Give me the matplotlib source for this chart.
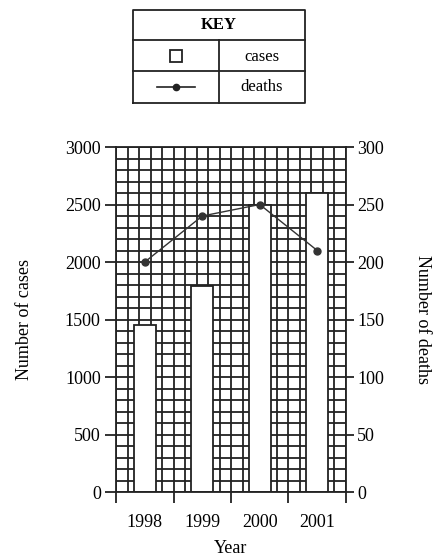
import numpy as np
import matplotlib
matplotlib.use("Agg")
from matplotlib import pyplot as plt

plt.rcParams['font.family'] = ['Liberation Serif', 'DejaVu Serif']

years = ['1998', '1999', '2000', '2001']
cases = [1450, 1790, 2500, 2600]
deaths = [200, 240, 250, 210]
case_ticks = [0, 500, 1000, 1500, 2000, 2500, 3000]
death_ticks = [0, 50, 100, 150, 200, 250, 300]

ink = '#222222'
fs = 13

fig = plt.figure(figsize=(4.33, 5.56), dpi=100)
ax = fig.add_axes([0.268, 0.1151, 0.531, 0.6205])

# grid paper behind the bars
for gx in np.arange(0, 4.001, 0.2):
    ax.axvline(gx, color=ink, lw=1.3, zorder=1)
for gy in np.arange(0, 3001, 100):
    ax.axhline(gy, color=ink, lw=1.3, zorder=1)

pos = np.arange(len(years)) + 0.5
ax.bar(pos, cases, width=0.38, color='white', edgecolor=ink, lw=1.3, zorder=2)

ax.set_xlim(0, 4)
ax.set_ylim(0, 3000)
ax.set_xticks([0, 1, 2, 3, 4], ['', '', '', '', ''])
ax.set_xticks(pos, years, minor=True)
ax.tick_params(axis='x', which='major', length=8, width=1.3, color=ink)
ax.tick_params(axis='x', which='minor', length=0, labelsize=fs, pad=16)
ax.set_yticks(case_ticks)
ax.tick_params(axis='y', length=8, width=1.3, color=ink, labelsize=fs, pad=3)
ax.set_xlabel('Year', fontsize=fs, labelpad=6)
ax.set_ylabel('Number of cases', fontsize=fs, labelpad=23)
for s in ax.spines.values():
    s.set_color(ink)
    s.set_linewidth(1.3)

ax2 = ax.twinx()
ax2.plot(pos, deaths, color='#333333', lw=1, marker='o', markersize=5, zorder=5)
ax2.set_ylim(0, 300)
ax2.set_yticks(death_ticks)
ax2.tick_params(axis='y', length=6, width=1.3, color=ink, labelsize=fs, pad=2)
ax2.set_ylabel('Number of deaths', fontsize=fs, rotation=270, labelpad=34)
for s in ax2.spines.values():
    s.set_visible(False)

# key box at the top
kax = fig.add_axes([0.307, 0.8147, 0.397, 0.1673])
kax.set_xlim(0, 1)
kax.set_ylim(0, 1)
kax.axis('off')
kw = dict(color=ink, lw=1.3, clip_on=False)
kax.plot([0, 1, 1, 0, 0], [0, 0, 1, 1, 0], **kw)
kax.plot([0, 1], [0.677, 0.677], **kw)
kax.plot([0, 1], [0.344, 0.344], **kw)
kax.plot([0.5, 0.5], [0, 0.677], **kw)
kax.text(0.5, 0.84, 'KEY', ha='center', va='center', fontsize=12, fontweight='bold')
kax.plot([0.25], [0.51], marker='s', markersize=8, markerfacecolor='white',
         markeredgecolor=ink, markeredgewidth=1.3, linestyle='none')
kax.text(0.75, 0.50, 'cases', ha='center', va='center', fontsize=12)
kax.plot([0.14, 0.36], [0.17, 0.17], color=ink, lw=1.2)
kax.plot([0.25], [0.17], marker='o', markersize=4.5, color=ink)
kax.text(0.75, 0.17, 'deaths', ha='center', va='center', fontsize=12)

fig.savefig('out.png', dpi=100)
